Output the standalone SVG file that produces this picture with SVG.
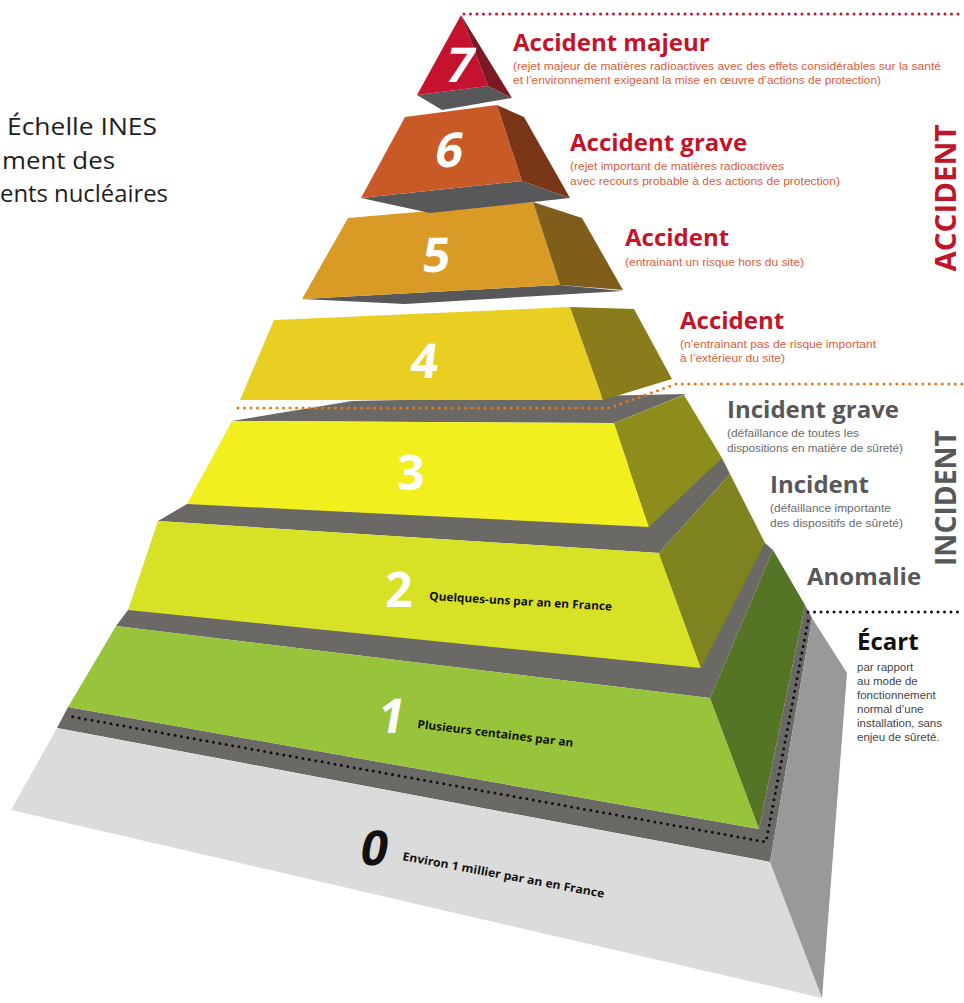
<svg xmlns="http://www.w3.org/2000/svg" width="964" height="1003" viewBox="0 0 964 1003">
<style>
.num{font-family:"Open Sans","DejaVu Sans",sans-serif;font-weight:700;font-size:48px;fill:#fff;text-anchor:middle}
.top{fill:#6b6966}
.under{fill:#58585a}
.ttl{font-family:"Open Sans","DejaVu Sans",sans-serif;font-weight:700;font-size:24px}
.red{fill:#c1152c}
.gry{fill:#58585a}
.sub{font-family:"Liberation Sans",Arial,sans-serif;font-size:11px}
.subr{fill:#d4603a}
.subg{fill:#6a6a6a}
.ecs{font-family:"Liberation Sans",Arial,sans-serif;font-size:11.5px;fill:#444}
.face{font-family:"Open Sans","DejaVu Sans",sans-serif;font-weight:700;font-size:11.5px;fill:#111}
.title{font-family:"Open Sans","DejaVu Sans",sans-serif;font-size:24px;fill:#1e1e1e}
.vert{font-family:"Open Sans","DejaVu Sans",sans-serif;font-weight:700;font-size:28px;text-anchor:middle}
.dot{fill:none;stroke-width:3;stroke-linecap:round;stroke-dasharray:0 6.5}
</style>

<g id="title">
<text class="title" x="7" y="135" textLength="150" lengthAdjust="spacingAndGlyphs">Échelle INES</text>
<text class="title" x="2" y="169" textLength="113" lengthAdjust="spacingAndGlyphs">ment des</text>
<text class="title" x="0" y="202" textLength="168" lengthAdjust="spacingAndGlyphs">ents nucléaires</text>
</g>

<g id="level-0">
<polygon class="top" points="57,728 770,862 812,618 805,605 759,829 68,707"/>
<polygon fill="#dbdbdb" points="57,728 770,862 822,998 11,810"/>
<polygon fill="#9b9997" points="770,862 812,618 847,673 822,998"/>
<text class="num" style="fill:#111" transform="translate(372,865) skewX(-10)">0</text>
<text class="face" transform="translate(402,860) rotate(10.6)" textLength="205" lengthAdjust="spacingAndGlyphs">Environ 1 millier par an en France</text>
</g>

<g id="level-1">
<polygon class="top" points="116,626 710,698 773,550 765,543 128,610"/>
<polygon fill="#98c43b" points="116,626 710,698 759,829 68,707"/>
<polygon fill="#567426" points="710,698 773,550 805,605 759,829"/>
<text class="num" transform="translate(389,733) skewX(-10)">1</text>
<text class="face" transform="translate(417,728) rotate(6.9)" textLength="157" lengthAdjust="spacingAndGlyphs">Plusieurs centaines par an</text>
</g>

<g id="level-2">
<polygon class="top" points="158,521 659,553 730,474 722,458 187,504"/>
<polygon fill="#d7e125" points="158,521 659,553 701,668 128,610"/>
<polygon fill="#7e821f" points="659,553 730,474 765,543 701,668"/>
<text class="num" x="399" y="607">2</text>
<text class="face" transform="translate(429,600) rotate(3.3)" textLength="183" lengthAdjust="spacingAndGlyphs">Quelques-uns par an en France</text>
</g>

<g id="level-3">
<polygon class="top" points="232,421 614,423 686,394 352,401"/>
<polygon fill="#f2ef1f" points="232,421 614,423 649,527 187,504"/>
<polygon fill="#8d8d1b" points="614,423 684,395 722,458 649,527"/>
<text class="num" x="411" y="490">3</text>
</g>

<g id="level-4">
<polygon fill="#e9cf21" points="274,320 570,307 603,400 240,400"/>
<polygon fill="#8a7c1b" points="570,307 634,309 672,379 603,400"/>
<text class="num" transform="translate(423,378) skewX(-6)">4</text>
</g>

<g id="level-5">
<polygon class="under" points="302,299 560,285 623,291 405,304"/>
<polygon fill="#d99b25" points="348,218 533,202 560,285 302,299"/>
<polygon fill="#7f5d1a" points="533,202 582,218 623,290 560,285"/>
<text class="num" transform="translate(435,272) skewX(-6)">5</text>
</g>

<g id="level-6">
<polygon class="under" points="361,198 522,181 570,198 430,213"/>
<polygon fill="#c95a27" points="405,117 497,105 522,181 361,198"/>
<polygon fill="#7a3718" points="497,105 524,117 570,198 522,181"/>
<text class="num" transform="translate(447,167) skewX(-10)">6</text>
</g>

<g id="level-7">
<polygon class="under" points="417,95 488,86 512,98 442,110"/>
<polygon fill="#c4122f" points="461,15 488,86 417,95"/>
<polygon fill="#7b1a22" points="461,15 512,98 488,86"/>
<text class="num" transform="translate(457,82) skewX(-12)">7</text>
</g>

<g id="label-7">
<text class="ttl red" x="513" y="51">Accident majeur</text>
<text class="sub subr" x="513" y="70" textLength="428" lengthAdjust="spacingAndGlyphs">(rejet majeur de matières radioactives avec des effets considérables sur la santé</text>
<text class="sub subr" x="513" y="84" textLength="368" lengthAdjust="spacingAndGlyphs">et l’environnement exigeant la mise en œuvre d’actions de protection)</text>
</g>
<g id="label-6">
<text class="ttl red" x="570" y="151">Accident grave</text>
<text class="sub subr" x="570" y="170" textLength="214" lengthAdjust="spacingAndGlyphs">(rejet important de matières radioactives</text>
<text class="sub subr" x="570" y="185" textLength="270" lengthAdjust="spacingAndGlyphs">avec recours probable à des actions de protection)</text>
</g>
<g id="label-5">
<text class="ttl red" x="625" y="246">Accident</text>
<text class="sub subr" x="625" y="266" textLength="179" lengthAdjust="spacingAndGlyphs">(entrainant un risque hors du site)</text>
</g>
<g id="label-4">
<text class="ttl red" x="680" y="329">Accident</text>
<text class="sub subr" x="680" y="348" textLength="196" lengthAdjust="spacingAndGlyphs">(n’entrainant pas de risque important</text>
<text class="sub subr" x="680" y="362" textLength="105" lengthAdjust="spacingAndGlyphs">à l’extérieur du site)</text>
</g>
<g id="label-3">
<text class="ttl gry" x="727" y="418">Incident grave</text>
<text class="sub subg" x="727" y="437" textLength="132" lengthAdjust="spacingAndGlyphs">(défaillance de toutes les</text>
<text class="sub subg" x="727" y="452" textLength="176" lengthAdjust="spacingAndGlyphs">dispositions en matière de sûreté)</text>
</g>
<g id="label-2">
<text class="ttl gry" x="770" y="493">Incident</text>
<text class="sub subg" x="770" y="512" textLength="121" lengthAdjust="spacingAndGlyphs">(défaillance importante</text>
<text class="sub subg" x="770" y="527" textLength="133" lengthAdjust="spacingAndGlyphs">des dispositifs de sûreté)</text>
</g>
<g id="label-1">
<text class="ttl gry" x="807" y="585">Anomalie</text>
</g>
<g id="label-0">
<text class="ttl" style="fill:#111" x="857" y="650">Écart</text>
<text class="ecs" x="857" y="671">par rapport</text>
<text class="ecs" x="857" y="685">au mode de</text>
<text class="ecs" x="857" y="699">fonctionnement</text>
<text class="ecs" x="857" y="713">normal d’une</text>
<text class="ecs" x="857" y="727">installation, sans</text>
<text class="ecs" x="857" y="741">enjeu de sûreté.</text>
</g>

<g id="categories">
<text class="vert red" transform="translate(956,198) rotate(-90)" textLength="147" lengthAdjust="spacingAndGlyphs">ACCIDENT</text>
<text class="vert gry" transform="translate(956,498) rotate(-90)" textLength="136" lengthAdjust="spacingAndGlyphs">INCIDENT</text>
</g>

<g id="connectors">
<path class="dot" stroke="#c1152c" d="M464 14 L964 14"/>
<path class="dot" stroke="#e07b20" d="M238 408 L609 408 L676 384 L964 384"/>
<path class="dot" stroke="#111" d="M808 612 L964 612"/>
<path class="dot" stroke="#111" d="M808 621 L766 842 L68 716"/>
</g>
</svg>
